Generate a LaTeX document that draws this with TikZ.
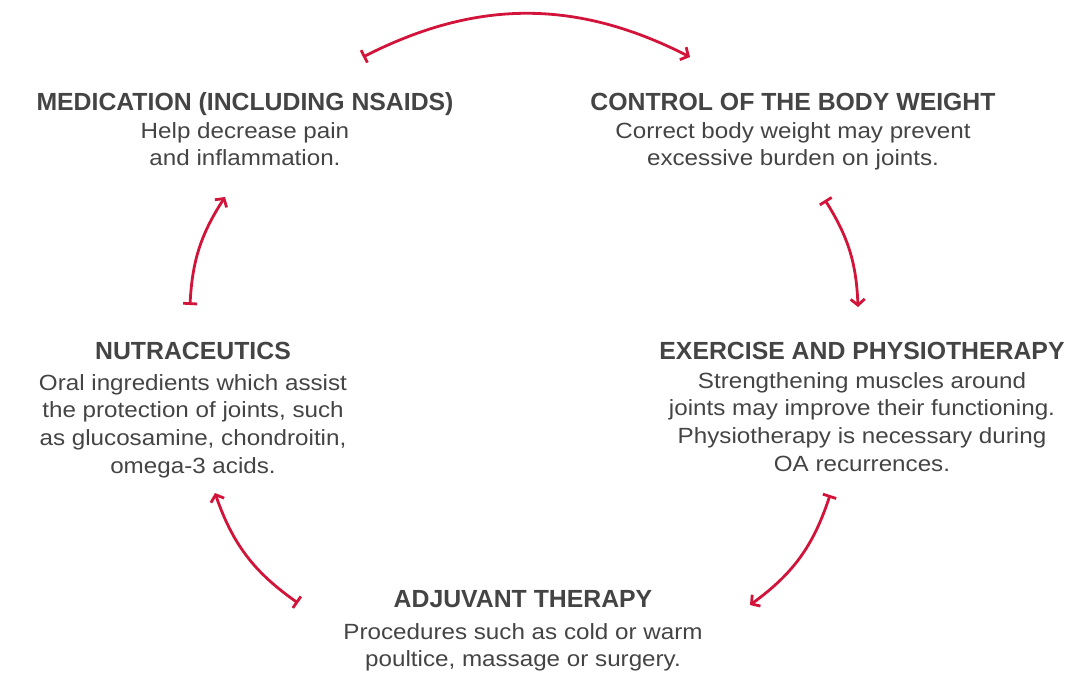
\documentclass[tikz,border=0pt]{standalone}
\usepackage{fontspec}
\setmainfont{Liberation Sans}
\newfontfamily\descfont[FakeStretch=1.1]{Liberation Sans}
\usetikzlibrary{arrows.meta,positioning}
\definecolor{arcred}{HTML}{D2143A}
\definecolor{txtgray}{HTML}{444444}

\begin{document}
\begin{tikzpicture}[x=1pt,y=-1pt,
                    node distance=12pt,
                    head/.style={font=\fontsize{24.8}{28}\selectfont\bfseries, text=txtgray, inner sep=0pt, anchor=base},
                    desc/.style={font=\descfont\fontsize{22}{27.7}\selectfont, text=txtgray, align=center, inner sep=0pt},
                    cyc/.style={draw=arcred, line width=2.8pt,
                                {Bar[width=14pt,line width=2.8pt]}-{Straight Barb[length=6pt,width=14pt,line width=2.8pt]}}]
\useasboundingbox (0,0) rectangle (1090,673);

\node[head] (med) at (245,110) {MEDICATION (INCLUDING NSAIDS)};
\node[desc, below=of med.base] (meddesc) {Help decrease pain\\and inflammation.};

\node[head] (weight) at (793,110) {CONTROL OF THE BODY WEIGHT};
\node[desc, below=of weight.base] (weightdesc) {Correct body weight may prevent\\excessive burden on joints.};

\node[head] (exer) at (862,359) {EXERCISE AND PHYSIOTHERAPY};
\node[desc, below=13pt of exer.base] (exerdesc) {Strengthening muscles around\\joints may improve their functioning.\\Physiotherapy is necessary during\\OA recurrences.};

\node[head] (adj) at (523,607) {ADJUVANT THERAPY};
\node[desc, below=16pt of adj.base] (adjdesc) {Procedures such as cold or warm\\poultice, massage or surgery.};

\node[head] (nutra) at (193,359) {NUTRACEUTICS};
\node[desc, below=15pt of nutra.base] (nutradesc) {Oral ingredients which assist\\the protection of joints, such\\as glucosamine, chondroitin,\\omega-3 acids.};

\coordinate (a1) at (363,57);
\coordinate (b1) at (690,57);
\coordinate (a2) at (825,200);
\coordinate (b2) at (858,307);
\coordinate (a3) at (830,495);
\coordinate (b3) at (750,605);
\coordinate (a4) at (298,603);
\coordinate (b4) at (215,493);
\coordinate (a5) at (190,305);
\coordinate (b5) at (225,197);

\draw[cyc] (a1) to[bend left=27] (b1);
\draw[cyc] (a2) to[bend left=15] (b2);
\draw[cyc] (a3) to[bend left=18] (b3);
\draw[cyc] (a4) to[bend left=18] (b4);
\draw[cyc] (a5) to[bend left=15] (b5);
\end{tikzpicture}
\end{document}
